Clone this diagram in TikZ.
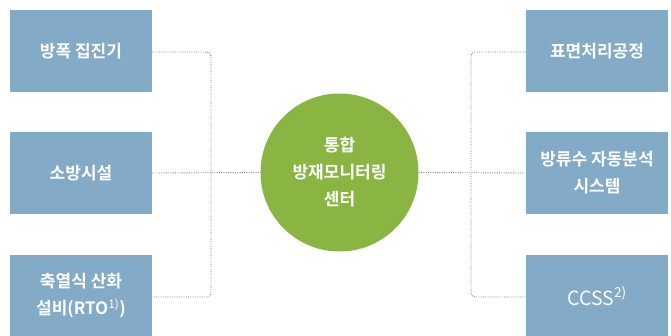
\documentclass[tikz,border=0pt]{standalone}
\usepackage{fontspec}
\setmainfont{Noto Sans CJK KR}[BoldFont={* Bold}]
\definecolor{boxblue}{HTML}{83AAC6}
\definecolor{hubgreen}{HTML}{8AB542}
\definecolor{linegray}{HTML}{7A7A7A}
\begin{document}
\begin{tikzpicture}[x=1pt,y=-1pt,
  itembox/.style={rectangle,fill=boxblue,text=white,minimum width=142pt,minimum height=82pt,
    inner sep=0pt,align=center,font=\bfseries\fontsize{17}{27}\selectfont},
  hub/.style={circle,fill=hubgreen,text=white,minimum size=158pt,inner sep=0pt,align=center,
    font=\bfseries\fontsize{17}{27}\selectfont},
  link/.style={draw=linegray,line width=0.9pt,dash pattern=on 0.9pt off 1.4pt,rounded corners=4pt}]
\useasboundingbox (0,0) rectangle (671,336);
\node[itembox] (l1) at (81,51) {방폭 집진기};
\node[itembox] (l2) at (81,173) {소방시설};
\node[itembox] (l3) at (81,296) {축열식 산화\\설비(RTO\textsuperscript{\mdseries 1)})};
\node[itembox] (r1) at (597,51) {표면처리공정};
\node[itembox] (r2) at (597,173) {방류수 자동분석\\시스템};
\node[itembox] (r3) at (597,296) {\mdseries\fontsize{19.5}{27}\selectfont CCSS\textsuperscript{2)}};
\node[hub] (c) at (339.5,172.5) {통합\\방재모니터링\\센터};
\coordinate (lv) at (211,0);
\coordinate (rv) at (471,0);
\draw[link] (l1.east|-0,52) -- (lv|-0,52) -- (lv|-0,297) -- (l3.east|-0,297);
\draw[link] (l2.east) -- (c.west);
\draw[link] (r1.west|-0,52) -- (rv|-0,52) -- (rv|-0,297) -- (r3.west|-0,297);
\draw[link] (c.east) -- (r2.west);
\end{tikzpicture}
\end{document}
